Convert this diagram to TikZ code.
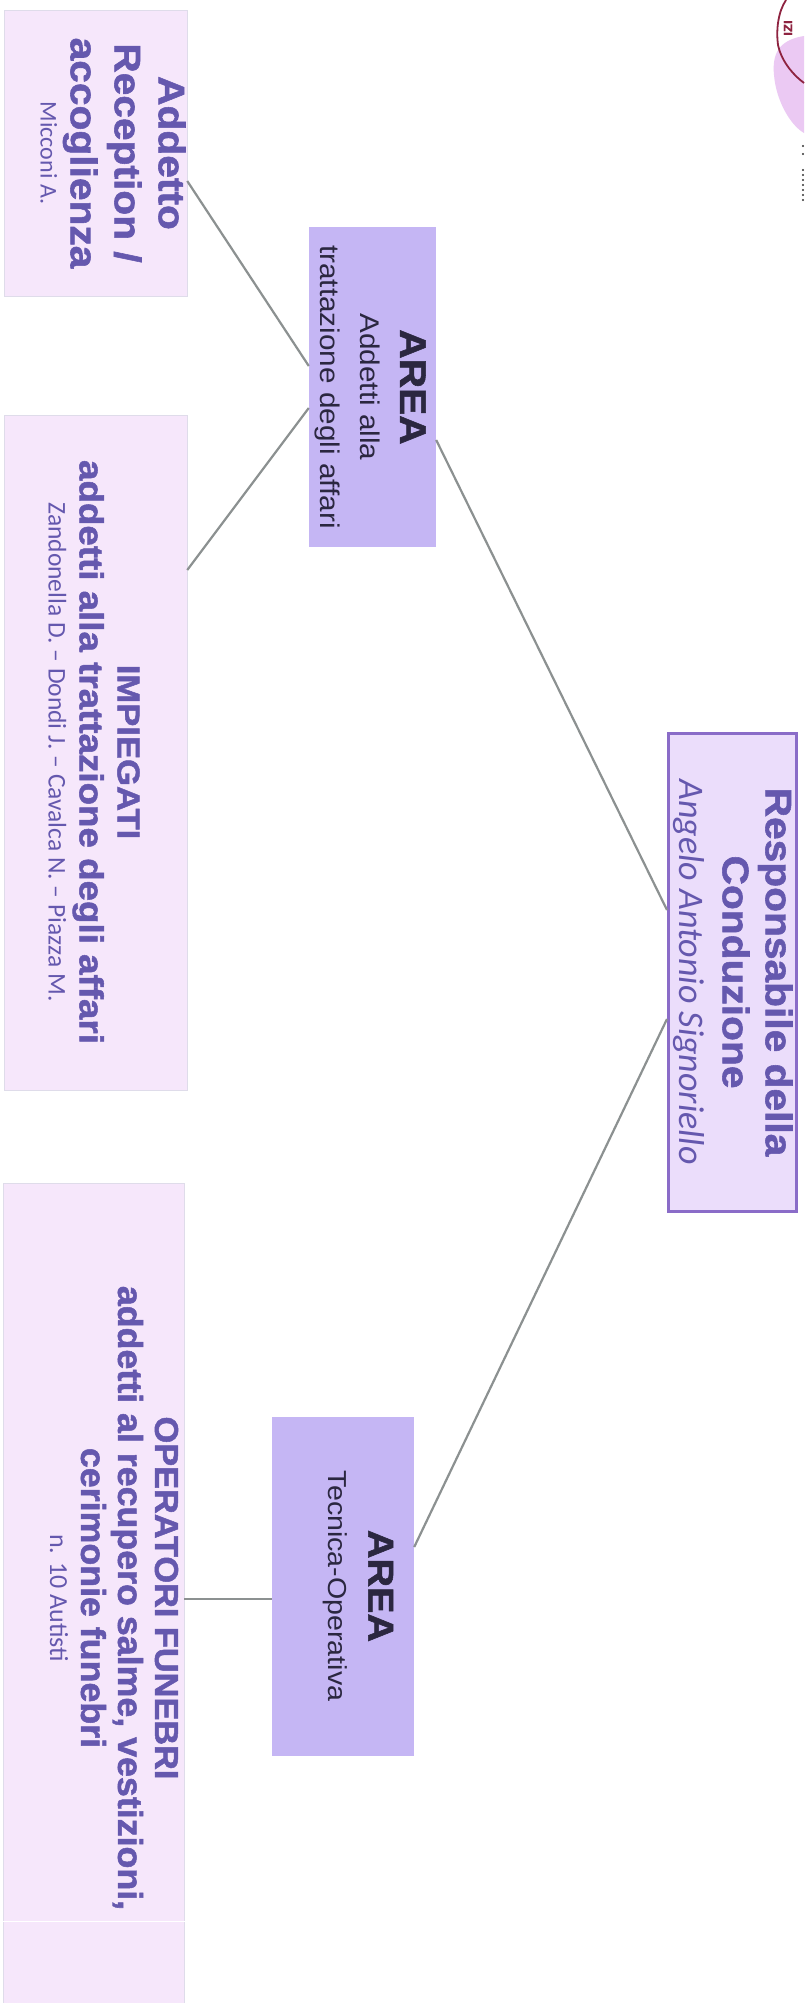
\documentclass[tikz,border=0pt]{standalone}
\usepackage{fontspec}
\setmainfont{Liberation Sans}[FakeStretch=1.1,BoldFeatures={FakeStretch=1.1,FakeBold=1.5}]
\newfontfamily\cond{Liberation Sans}[FakeStretch=1.04,BoldFeatures={FakeStretch=1.04,FakeBold=1.5}]
\newfontfamily\carl{Carlito}
\definecolor{pinkbox}{HTML}{F6E7FB}
\definecolor{pinkedge}{HTML}{DFDCEA}
\definecolor{areabox}{HTML}{C5B6F4}
\definecolor{respfill}{HTML}{EBDDFB}
\definecolor{respline}{HTML}{8A6CC8}
\definecolor{ink}{HTML}{6558AE}
\definecolor{wire}{HTML}{8C9191}
\definecolor{areaink}{HTML}{2B2740}
\definecolor{stampred}{HTML}{8E2340}
\definecolor{blob}{HTML}{EBC9F3}
\tikzset{
  x=1pt,y=-1pt,
  pinkb/.style={rectangle,fill=pinkbox,draw=pinkedge,line width=.5pt,rotate=-90,inner sep=0pt},
  areab/.style={rectangle,fill=areabox,rotate=-90,inner sep=0pt},
  respb/.style={rectangle,fill=respfill,draw=respline,line width=3pt,rotate=-90,inner sep=0pt},
  lbl/.style={rotate=-90,align=flush center,inner sep=0pt,text=ink,text width=700pt},
  arealbl/.style={rotate=-90,align=flush center,inner sep=0pt,text=areaink,text width=500pt},
  conn/.style={draw=wire,line width=2.2pt},
}
\newcommand{\fsz}[2]{\fontsize{#1}{#2}\selectfont}
\begin{document}
\begin{tikzpicture}
\useasboundingbox[fill=white] (0,0) rectangle (804,2003);
% stamp remnant
\fill[blob] (804,36) .. controls (778,40) and (772,55) .. (774,75) .. controls (776,100) and (790,125) .. (804,133) -- cycle;
\draw[stampred,line width=1.8pt] (786,0) .. controls (778,12) and (776,30) .. (778,45) .. controls (781,60) and (792,74) .. (804,83);
\node[rotate=90,text=stampred,inner sep=0pt,font=\fsz{12}{12}\bfseries] (stamptxt) at (788,28) {IZI};
\foreach \yy in {146,154,170,175,180,185,190,195,200}
  \fill[black!80] (803,\yy) circle (1.1pt);
% boxes
\node[pinkb,minimum width=286pt,minimum height=183pt] (A) at (95.5,153) {};
\node[pinkb,minimum width=675pt,minimum height=183pt] (B) at (95.5,752.5) {};
\node[pinkb,minimum width=820pt,minimum height=181pt] (C) at (93.5,1593) {};
\node[areab,minimum width=320pt,minimum height=127pt] (R1) at (372.5,387) {};
\node[areab,minimum width=339pt,minimum height=142pt] (R2) at (343,1586.5) {};
\node[respb,minimum width=478pt,minimum height=128pt] (D) at (732.5,972.5) {};
% seam
\coordinate (sl) at (2,1921); \coordinate (sr) at (185,1921);
\draw[white,line width=1pt] (sl) -- (sr);
% connectors
\draw[conn] ([yshift=-28pt]A.north) -- ([yshift=21pt]R1.south);
\draw[conn] ([yshift=182.5pt]B.north) -- ([yshift=-21pt]R1.south);
\draw[conn] ([yshift=-53pt]R1.north) -- ([yshift=62.5pt]D.south);
\draw[conn] ([yshift=-46.5pt]D.south) -- ([yshift=39.5pt]R2.north);
\draw[conn,line width=1.5pt] ([yshift=-6pt]C.north) -- ([yshift=-12.5pt]R2.south);
% text
\node[lbl] (At) at (113,153) {{\fsz{37}{44}\bfseries Addetto\par Reception /\par accoglienza\par}{\carl\fsz{24}{30}Micconi A.\par}};
\node[lbl] (Bt) at (94,752) {{\fsz{31.5}{38}\bfseries IMPIEGATI\par}{\fsz{33.4}{38}\bfseries addetti alla trattazione degli affari\par}{\carl\fsz{25.5}{31}Zandonella D. – Dondi J. – Cavalca N. – Piazza M.\par}};
\node[lbl] (Ct) at (114,1598) {{\cond\fsz{33}{37}\bfseries OPERATORI FUNEBRI\par}{\cond\fsz{34.4}{37}\bfseries addetti al recupero salme, vestizioni,\par cerimonie funebri\par}{\carl\fsz{26}{31}n. 10 Autisti\par}};
\node[arealbl] (R1t) at (370,387) {{\fsz{37}{40}\bfseries AREA\par}{\fsz{27}{40}Addetti alla\par trattazione degli affari\par}};
\node[arealbl] (R2t) at (358,1586) {{\fsz{36}{40}\bfseries AREA\par}{\fsz{26}{40}Tecnica-Operativa\par}};
\node[lbl] (Dt) at (733,972) {{\fsz{37}{43}\bfseries Responsabile della\par Conduzione\par}{\carl\itshape\fsz{36}{43}Angelo Antonio Signoriello\par}};
\end{tikzpicture}
\end{document}
